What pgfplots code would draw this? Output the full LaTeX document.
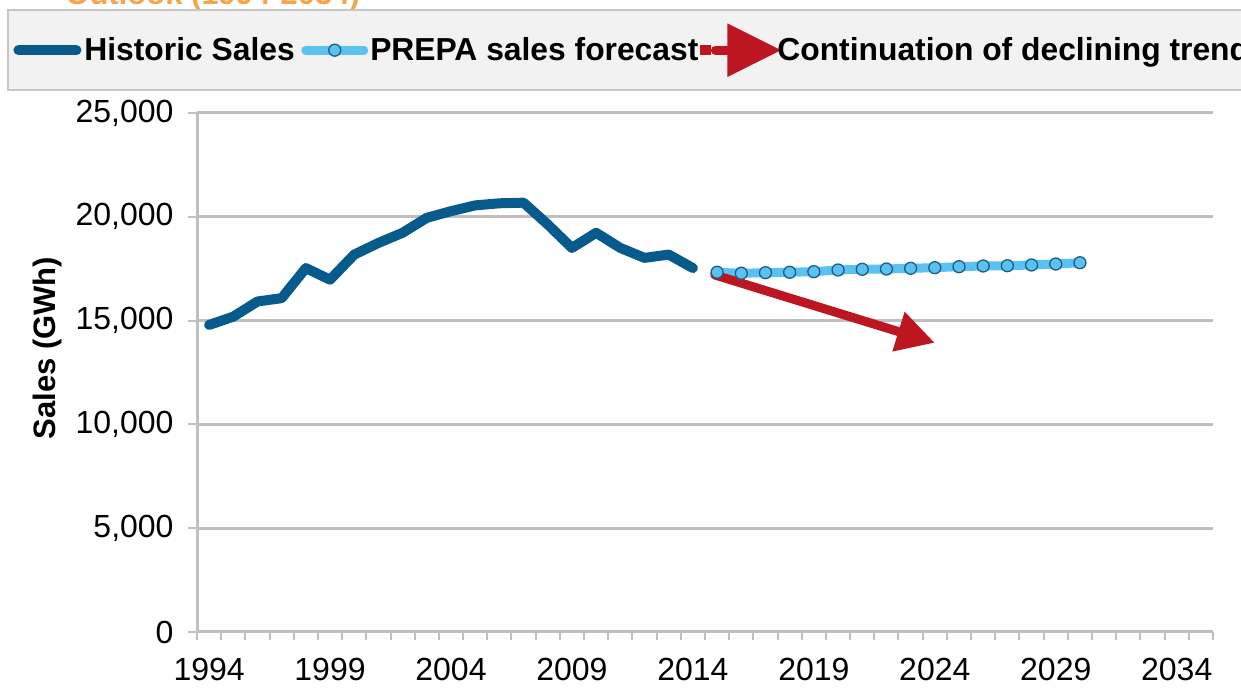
\documentclass[border=0pt]{standalone}
\usepackage{fontspec}
\setmainfont{Liberation Sans}
\usepackage{pgfplots}
\pgfplotsset{compat=1.18}
\usetikzlibrary{arrows.meta}
\definecolor{histblue}{HTML}{065A8C}
\definecolor{fcblue}{HTML}{5BC1EE}
\definecolor{mkblue}{HTML}{1A5E8A}
\definecolor{trendred}{HTML}{BE1621}
\definecolor{gridgray}{HTML}{C0C0C0}
\definecolor{titleorange}{HTML}{F9A44A}
\definecolor{legfill}{HTML}{F2F2F2}
\pgfplotsset{
  histleg/.style={legend image code/.code={\draw[##1] (2.5pt,0pt) -- (31.5pt,0pt); \path (0pt,0pt) (32pt,0pt);}},
  fcleg/.style={legend image code/.code={\draw[##1, mark repeat=2, mark phase=2] plot coordinates {(2.25pt,0pt) (16.75pt,0pt) (31.25pt,0pt)}; \path (0pt,0pt) (31pt,0pt);}},
  redleg/.style={legend image code/.code={\fill[-, fill opacity=0] (0pt,0pt) rectangle (1pt,0.1pt); \draw[-, trendred, line width=4.5pt, line cap=round] (5.25pt,0pt) -- (15pt,0pt); \fill[-, trendred] (33pt,0pt) -- (13.5pt,9.75pt) -- (13.5pt,-9.75pt) -- cycle;}},
}
\begin{document}
\begin{tikzpicture}
\useasboundingbox (0,0) rectangle (620.5pt,347pt);
\clip (0,0) rectangle (620.5pt,347pt);
\node[anchor=base west, inner sep=0pt, text=titleorange, font=\bfseries\fontsize{15.5}{18}\selectfont] at (32.5pt,344.5pt) {Outlook (1994-2034)};
\filldraw[fill=legfill, draw=gray!45, line width=0.8pt] (4pt,302pt) rectangle (700pt,342pt);
\begin{axis}[
  scale only axis, width=508pt, height=259.5pt,
  at={(98.5pt,31pt)}, anchor=south west,
  xmin=1993.5, xmax=2035.5, ymin=0, ymax=25000,
  axis lines=left, axis line style={-, draw=gridgray, line width=1.5pt},
  xtick={1994,1999,...,2034},
  minor xtick={1993.5,1994.5,...,2035.5},
  ytick={0,5000,...,25000},
  scaled y ticks=false,
  ymajorgrids, grid style={draw=gridgray, line width=1.5pt},
  tick align=outside, major tick length=4.5pt, minor tick length=4pt,
  tick style={draw=gridgray, line width=1pt},
  every major x tick/.append style={draw=none},
  /pgf/number format/assume math mode=true,
  tick label style={font=\fontsize{16}{19}\selectfont},
  x tick label style={/pgf/number format/1000 sep={}, yshift=-5.2pt},
  y tick label style={/pgf/number format/1000 sep={,}, xshift=-3.7pt},
  ylabel={Sales (GWh)},
  ylabel style={font=\bfseries\fontsize{15.5}{18}\selectfont, at={(axis description cs:-0.1476,0.547)}, anchor=center},
  legend columns=3,
  legend style={at={(axis description cs:-0.186,1.121)}, anchor=west, draw=none, fill=none, inner sep=0pt,
    font=\bfseries\fontsize{15.9}{18}\selectfont,
    /tikz/every even column/.append style={column sep=0pt},
    nodes={inner sep=1pt}},
]
\addplot[histblue, line width=5pt, line join=round, line cap=round, histleg]
  coordinates {
  (1994,14790) (1995,15190) (1996,15920) (1997,16080) (1998,17530) (1999,16970)
  (2000,18180) (2001,18740) (2002,19230) (2003,19950) (2004,20270) (2005,20550)
  (2006,20650) (2007,20680) (2008,19630) (2009,18500) (2010,19230) (2011,18500)
  (2012,18020) (2013,18180) (2014,17530)};
\addlegendentry{Historic Sales}
\addplot[fcblue, line width=4.5pt, line join=round, line cap=round,
  mark=*, mark size=3pt, mark options={fill=fcblue, draw=mkblue, line width=0.65pt}, fcleg]
  coordinates {
  (2015,17327) (2016,17279) (2017,17308) (2018,17327) (2019,17356) (2020,17438)
  (2021,17471) (2022,17486) (2023,17519) (2024,17548) (2025,17596) (2026,17630)
  (2027,17644) (2028,17678) (2029,17726) (2030,17788)};
\addlegendentry{PREPA sales forecast}
\addplot[trendred, line width=4.5pt, line cap=round, -{Triangle[length=19pt,width=19.5pt]}, redleg]
  coordinates {(2014.9,17200) (2024,13930)};
\addlegendentry{Continuation of declining trend}
\end{axis}
\end{tikzpicture}
\end{document}
